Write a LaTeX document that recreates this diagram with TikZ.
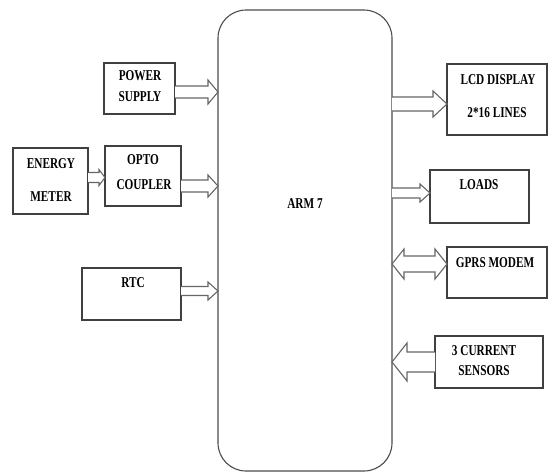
\documentclass[tikz,border=0pt]{standalone}
\usepackage{fontspec}
\setmainfont{Liberation Serif}[FakeStretch=0.75]
\tikzset{
  blk/.style={draw=black!75, line width=1.3pt, fill=white},
  armbox/.style={draw=black!70, line width=1.1pt, rounded corners=28pt},
  lbl/.style={font=\fontsize{15}{17}\selectfont\bfseries, inner sep=0pt, text=black},
  harr/.style={draw=black!60, line width=1.1pt, fill=white, line join=miter}
}
% right-pointing hollow arrow: x1, x2, yc, shaft half, head half, head length
\newcommand\rharrow[6]{%
  \draw[harr] (#1,#3-#4) -- (#2-#6,#3-#4) -- (#2-#6,#3-#5) -- (#2,#3) -- (#2-#6,#3+#5) -- (#2-#6,#3+#4) -- (#1,#3+#4);}
% left-pointing hollow arrow: x1 (tail, right), x2 (tip, left)
\newcommand\lharrow[6]{%
  \draw[harr] (#1,#3-#4) -- (#2+#6,#3-#4) -- (#2+#6,#3-#5) -- (#2,#3) -- (#2+#6,#3+#5) -- (#2+#6,#3+#4) -- (#1,#3+#4);}
\begin{document}
\begin{tikzpicture}[x=1pt,y=-1pt]
\useasboundingbox (0,0) rectangle (548,472);
% ARM box
\draw[armbox] (218,10) rectangle (392,471);
\node[lbl] (armt) at (305,204) {ARM 7};
% left boxes
\draw[blk] (104,63) rectangle (175,114) node[pos=0.5] (ps) {};
\node[lbl] (pst1) at (140,76) {POWER};
\node[lbl] (pst2) at (140,97) {SUPPLY};
\draw[blk] (13,148) rectangle (88,214) node[pos=0.5] (em) {};
\node[lbl] (emt1) at (51,164) {ENERGY};
\node[lbl] (emt2) at (51,197) {METER};
\draw[blk] (105,146) rectangle (181,206) node[pos=0.5] (oc) {};
\node[lbl] (oct1) at (143,160) {OPTO};
\node[lbl] (oct2) at (144,185) {COUPLER};
\draw[blk] (82,268) rectangle (181,320) node[pos=0.5] (rtc) {};
\node[lbl] (rtct) at (133,283) {RTC};
% right boxes
\draw[blk] (447,64) rectangle (547,135) node[pos=0.5] (lcd) {};
\node[lbl] (lcdt1) at (498,80) {LCD DISPLAY};
\node[lbl] (lcdt2) at (497,113) {2*16 LINES};
\draw[blk] (430,170) rectangle (529,223) node[pos=0.5] (ld) {};
\node[lbl] (ldt) at (479,185) {LOADS};
\draw[blk] (447,247) rectangle (547,298) node[pos=0.5] (gp) {};
\node[lbl] (gpt) at (495,263) {GPRS MODEM};
\draw[blk] (435,336) rectangle (543,388) node[pos=0.5] (cs) {};
\node[lbl] (cst1) at (484,351) {3 CURRENT};
\node[lbl] (cst2) at (484,371) {SENSORS};
% arrows
\rharrow{175}{218}{92}{6}{12}{10}
\rharrow{88}{105}{177.5}{5}{8}{6}
\rharrow{181}{218}{186}{6}{11}{10}
\rharrow{181}{218}{291}{4.5}{9}{10}
\rharrow{392}{447}{104}{7}{13}{14}
\rharrow{392}{430}{193}{5}{9}{10}
\lharrow{435}{392}{362}{10}{19}{15}
\draw[harr] (392,264) -- (404,249) -- (404,256) -- (435,256) -- (435,249) -- (447,264) -- (435,279) -- (435,272) -- (404,272) -- (404,279) -- cycle;
\end{tikzpicture}
\end{document}
